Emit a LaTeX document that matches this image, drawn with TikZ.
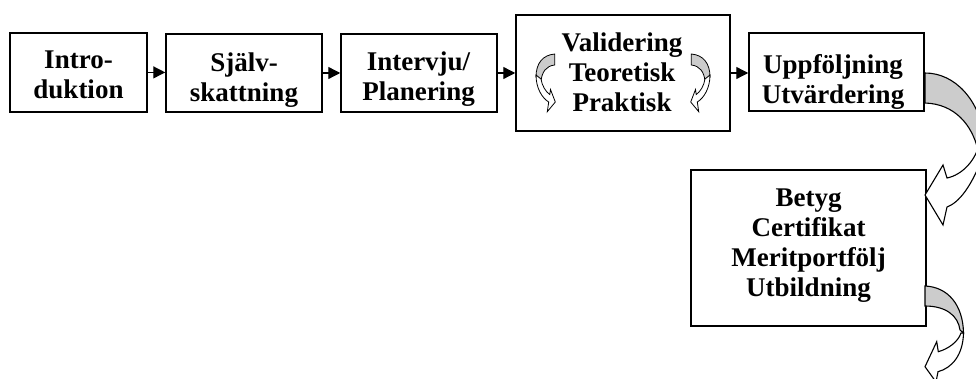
\documentclass[tikz,border=0pt]{standalone}
\usepackage{fontspec}
\setmainfont{Liberation Serif}
\usetikzlibrary{arrows.meta}
\definecolor{bandgray}{RGB}{204,204,204}
\begin{document}
\begin{tikzpicture}[x=1pt,y=-1pt,
  box/.style={draw, line width=1.5pt, inner sep=0pt, fill=white},
  lbl/.style={font=\bfseries\fontsize{27}{30}\selectfont, align=center, anchor=north, inner sep=0pt},
  flow/.style={line width=1.3pt, -{Triangle[length=12pt,width=12pt]}},
  band/.style={draw, line width=1.1pt, line join=miter},
  smallband/.style={draw, line width=0.8pt, line join=miter},
]
\useasboundingbox (0,0) rectangle (976,379);
\clip (0,0) rectangle (976,379);

% boxes
\node[box, minimum width=137pt, minimum height=79pt] (b1) at (78.5,72.4) {};
\node[box, minimum width=156pt, minimum height=78pt] (b2) at (244,73) {};
\node[box, minimum width=156pt, minimum height=78pt] (b3) at (419,73) {};
\node[box, minimum width=214pt, minimum height=116pt] (b4) at (623,73) {};
\node[box, minimum width=175pt, minimum height=78pt] (b5) at (836.5,72) {};
\node[box, minimum width=235pt, minimum height=156pt] (b6) at (808.5,248) {};

% labels
\node[lbl] (t1) at (78.5,50.8) {Intro-\\duktion};
\node[lbl] (t2) at (244,52.1) {Själv-\\skattning};
\node[lbl] (t3) at (418.5,51.7) {Intervju/\\Planering};
\node[lbl] (t4) at (622,32.1) {Validering\\Teoretisk\\Praktisk};
\node[lbl] (t5) at (833,54) {Uppföljning\\Utvärdering};
\node[lbl] (t6) at (808.5,188.5) {Betyg\\Certifikat\\Meritportfölj\\Utbildning};

% straight connectors
\draw[flow] (b1.east) -- (b1.east -| b2.west);
\draw[flow] (b2.east) -- (b2.east -| b3.west);
\draw[flow] (b3.east) -- (b3.east -| b4.west);
\draw[flow] (b4.east) -- (b4.east -| b5.west);

% big curved arrow b5 -> b6
\draw[band, fill=bandgray] (925,73) .. controls (955,73) and (980,100) .. (985,140)
  -- (978,150) .. controls (972,125) and (955,104) .. (925,103) -- cycle;
\draw[band, fill=white] (980,140) .. controls (977,160) and (962,175) .. (947,178)
  -- (943,165) -- (925,195) -- (943,225) -- (947,207)
  .. controls (958,203) and (972,188) .. (985,150) -- cycle;

% bottom curved arrow from b6
\draw[band, fill=bandgray] (925,286) .. controls (948,287) and (963,305) .. (963.5,333)
  -- (960,330) .. controls (958,315) and (945,306) .. (925,306) -- cycle;
\draw[band, fill=white] (961,333) .. controls (958,342) and (948,349) .. (938.3,351.7)
  -- (936.7,341.7) -- (925,366.7) -- (936,382) -- (938,371.7)
  .. controls (952,368) and (963,355) .. (963.5,333) -- cycle;

% small arrows inside validering box
\draw[smallband, fill=bandgray] (554.7,54) .. controls (543,55) and (536,63) .. (536,77)
  -- (541,81) .. controls (542,72) and (546,66) .. (554.7,65) -- cycle;
\draw[smallband, fill=white] (536,75) .. controls (536,88) and (542,98) .. (548.7,102)
  -- (547.3,111.7) -- (555.3,102) -- (550.5,89.5) -- (549.8,94.5)
  .. controls (546,92) and (542,86) .. (541,79) -- cycle;

\draw[smallband, fill=bandgray] (691.3,54) .. controls (703,55) and (710,63) .. (710,77)
  -- (705,81) .. controls (704,72) and (700,66) .. (691.3,65) -- cycle;
\draw[smallband, fill=white] (710,75) .. controls (710,88) and (704,98) .. (697.3,102)
  -- (698.7,111.7) -- (690.7,102) -- (695.5,89.5) -- (696.2,94.5)
  .. controls (700,92) and (704,86) .. (705,79) -- cycle;
\end{tikzpicture}
\end{document}
